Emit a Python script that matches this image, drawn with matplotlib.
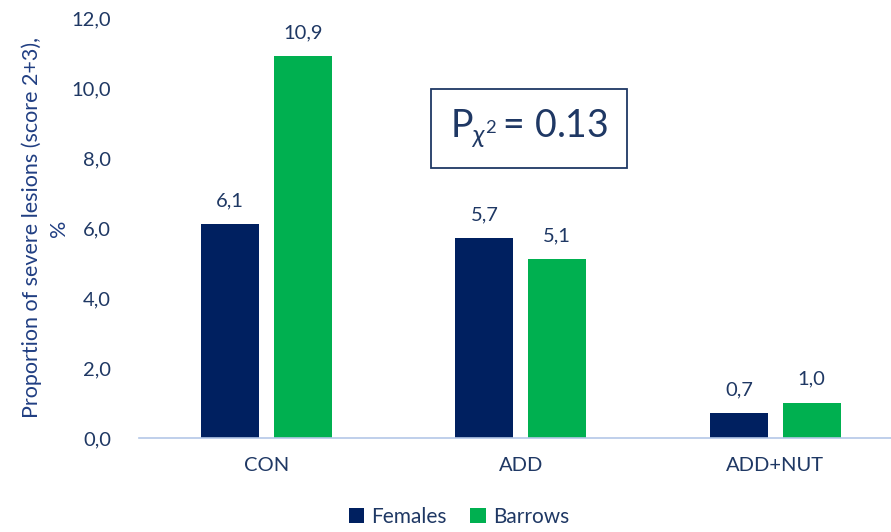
import matplotlib
matplotlib.use("Agg")
import matplotlib.pyplot as plt
import numpy as np

# lesion data per treatment group
groups = ["CON", "ADD", "ADD+NUT"]
females = [6.1, 5.7, 0.7]
barrows = [10.9, 5.1, 1.0]
yticks = [0, 2, 4, 6, 8, 10, 12]

navy = "#002060"
green = "#00B050"
txt = "#1F3864"

plt.rcParams["font.family"] = ["Lato", "DejaVu Sans"]
plt.rcParams["mathtext.fontset"] = "custom"
plt.rcParams["mathtext.rm"] = "Lato"
plt.rcParams["mathtext.it"] = "Lato:italic"


def fmt(v):
    return ("%.1f" % v).replace(".", ",")


def main():
    fig = plt.figure(figsize=(8.91, 5.32), dpi=100)
    # right edge runs a little past the canvas
    ax = fig.add_axes([0.156, 0.1767, 0.857, 0.7895])
    x = np.arange(len(groups))
    w = 0.228
    off = 0.143
    b1 = ax.bar(x - off, females, w, color=navy, label="Females")
    b2 = ax.bar(x + off, barrows, w, color=green, label="Barrows")
    for bars, vals in ((b1, females), (b2, barrows)):
        for b, v in zip(bars, vals):
            ax.annotate(fmt(v), (b.get_x() + b.get_width() / 2, v),
                        xytext=(0, 11), textcoords="offset points",
                        ha="center", va="bottom", fontsize=14.5, color=txt)

    ax.set_xlim(-0.5, 2.5)
    ax.set_ylim(0, 12)
    ax.set_yticks(yticks)
    ax.set_yticklabels([fmt(t) for t in yticks], fontsize=14.5, color=txt)
    ax.set_xticks(x)
    ax.set_xticklabels(groups, fontsize=14.5, color=txt)
    ax.tick_params(length=0)
    ax.tick_params(axis="y", pad=20)
    ax.tick_params(axis="x", pad=14)
    for s in ("top", "right", "left"):
        ax.spines[s].set_visible(False)
    ax.spines["bottom"].set_color("#B4C7E7")
    ax.spines["bottom"].set_linewidth(1.2)

    ax.set_ylabel("Proportion of severe lesions (score 2+3),\n%",
                  fontsize=15.5, color="#203E82", labelpad=2,
                  linespacing=1.45)

    ax.text(0.511, 0.737, r"P$_{\chi^2}\,$= 0.13", transform=ax.transAxes,
            ha="center", va="center", fontsize=27, color=txt,
            bbox=dict(boxstyle="square,pad=0.5", fc="white", ec=txt, lw=1.3))

    fig.legend(loc="lower center", ncol=2, frameon=False, fontsize=15,
               bbox_to_anchor=(0.515, -0.025), handlelength=0.75, handleheight=0.75,
               columnspacing=1.1, handletextpad=0.35, labelcolor=txt)

    fig.savefig("out.png", dpi=100)
    plt.close(fig)


if __name__ == "__main__":
    main()
